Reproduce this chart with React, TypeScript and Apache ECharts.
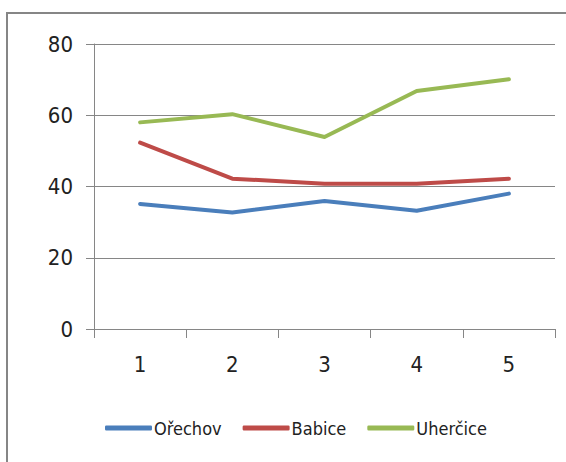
import React, { useEffect, useRef } from "react";
import * as echarts from "echarts";

const categories = ["1", "2", "3", "4", "5"];
const orechov = [35.1, 32.7, 35.9, 33.2, 38.0];
const babice = [52.3, 42.2, 40.8, 40.8, 42.2];
const uhercice = [58.0, 60.3, 53.9, 66.8, 70.1];
const seriesNames = ["Ořechov", "Babice", "Uherčice"];
const colors = ["#4A7EBB", "#BE4B48", "#98B954"];

const FONT = "'DejaVu Sans Condensed', 'Liberation Sans Narrow', sans-serif";

export default function App() {
  const ref = useRef<HTMLDivElement>(null);
  useEffect(() => {
    if (!ref.current) return;
    const chart = echarts.init(ref.current, null, { renderer: "svg" });
    const data = [orechov, babice, uhercice];
    chart.setOption({
      animation: false,
      backgroundColor: "#ffffff",
      graphic: [
        {
          type: "rect",
          shape: { x: 7, y: 13, width: 600, height: 500 },
          style: { fill: "none", stroke: "#868686", lineWidth: 2 },
          silent: true,
          z: 100,
        },
      ],
      grid: { left: 94, top: 44, right: 11, bottom: 133, containLabel: false },
      legend: {
        bottom: 20,
        left: 100,
        itemWidth: 47,
        itemHeight: 5,
        itemGap: 21,
        icon: "roundRect",
        textStyle: { fontFamily: FONT, fontSize: 18, color: "#222", padding: [0, 0, 0, -3] },
        data: seriesNames,
      },
      xAxis: {
        type: "category",
        data: categories,
        boundaryGap: true,
        axisLine: { lineStyle: { color: "#868686", width: 1 } },
        axisTick: { show: true, alignWithLabel: false, length: 9, lineStyle: { color: "#868686" } },
        axisLabel: { fontFamily: FONT, fontSize: 22, color: "#222", margin: 24 },
        splitLine: { show: false },
      },
      yAxis: {
        type: "value",
        min: 0,
        max: 80,
        interval: 20,
        axisLine: { show: true, lineStyle: { color: "#868686", width: 1 } },
        axisTick: { show: true, inside: false, length: 8, lineStyle: { color: "#868686" } },
        axisLabel: { fontFamily: FONT, fontSize: 22, color: "#222", margin: 21 },
        splitLine: { show: true, lineStyle: { color: "#868686", width: 1 } },
      },
      series: seriesNames.map((name, i) => ({
        name,
        type: "line",
        data: data[i],
        symbol: "none",
        lineStyle: { color: colors[i], width: 4, cap: "round", join: "round" },
        itemStyle: { color: colors[i] },
      })),
    });
    return () => chart.dispose();
  }, []);
  return (
    <div
      ref={ref}
      style={{ position: "fixed", left: 0, top: 0, width: 566, height: 462 }}
    />
  );
}
